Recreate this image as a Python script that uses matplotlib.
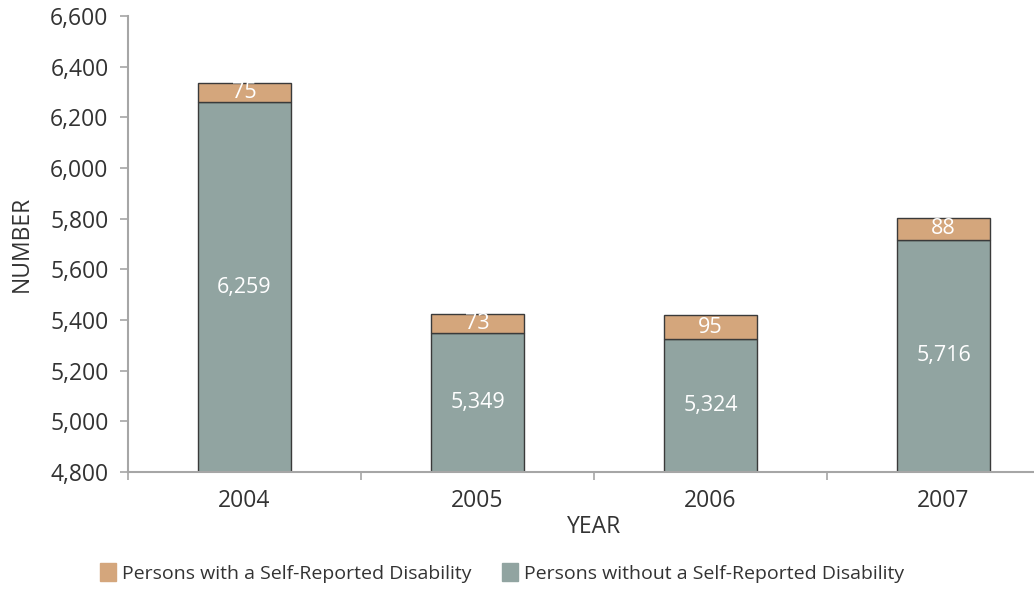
import matplotlib.pyplot as plt
import numpy as np

plt.rcParams['font.family'] = ['Open Sans', 'DejaVu Sans']

years = ["2004", "2005", "2006", "2007"]
without_disability = [6259, 5349, 5324, 5716]
with_disability = [75, 73, 95, 88]

tan = "#d4a67c"
slate = "#91a4a1"
edge = "#3a3a3a"
grey = "#a6a6a6"

fig = plt.figure(figsize=(10.34, 5.9), dpi=100)
ax = fig.add_axes([128 / 1034, 118 / 590, 932 / 1034, 456 / 590])

x = np.arange(len(years))
w = 0.4
base = 4800
low = np.array(without_disability)
ax.bar(x, low - base, w, bottom=base, color=slate, edgecolor=edge, linewidth=1)
ax.bar(x, with_disability, w, bottom=low, color=tan, edgecolor=edge, linewidth=1)

for i in range(len(years)):
    ax.text(x[i], (base + low[i]) / 2, f"{without_disability[i]:,}", ha="center",
            va="center", color="white", fontsize=15.5)
    ax.text(x[i], low[i] + with_disability[i] / 2, f"{with_disability[i]}", ha="center",
            va="center", color="white", fontsize=15.5)

ax.set_xlim(-0.5, 3.5)
ax.set_ylim(4800, 6600)
ax.set_yticks(np.arange(4800, 6601, 200))
ax.set_yticklabels([f"{v:,}" for v in range(4800, 6601, 200)])
ax.set_xticks(x)
ax.set_xticklabels(years)
ax.set_xticks(np.arange(-0.5, 3.6, 1), minor=True)
ax.tick_params(axis="x", which="major", length=0, labelsize=16.5, pad=12, labelcolor="#333333")
ax.tick_params(axis="x", which="minor", length=6, color=grey, width=1.2)
ax.tick_params(axis="y", length=6, color=grey, width=1.2, labelsize=16.5, labelcolor="#333333", pad=8)

for s in ["top", "right"]:
    ax.spines[s].set_visible(False)
for s in ["left", "bottom"]:
    ax.spines[s].set_color(grey)
    ax.spines[s].set_linewidth(1.5)

ax.set_xlabel("YEAR", fontsize=16.5, color="#333333", labelpad=2)
ax.set_ylabel("NUMBER", fontsize=16.5, color="#333333", labelpad=12)

handles = [plt.Rectangle((0, 0), 1, 1, color=tan), plt.Rectangle((0, 0), 1, 1, color=slate)]
fig.legend(handles, ["Persons with a Self-Reported Disability",
                     "Persons without a Self-Reported Disability"],
           loc="center", bbox_to_anchor=(502 / 1034, 1 - 573 / 590), ncol=2, frameon=False,
           fontsize=14, handlelength=0.8, handleheight=1.0, handletextpad=0.3,
           columnspacing=1.6, labelcolor="#333333")

fig.savefig("out.png", dpi=100)
